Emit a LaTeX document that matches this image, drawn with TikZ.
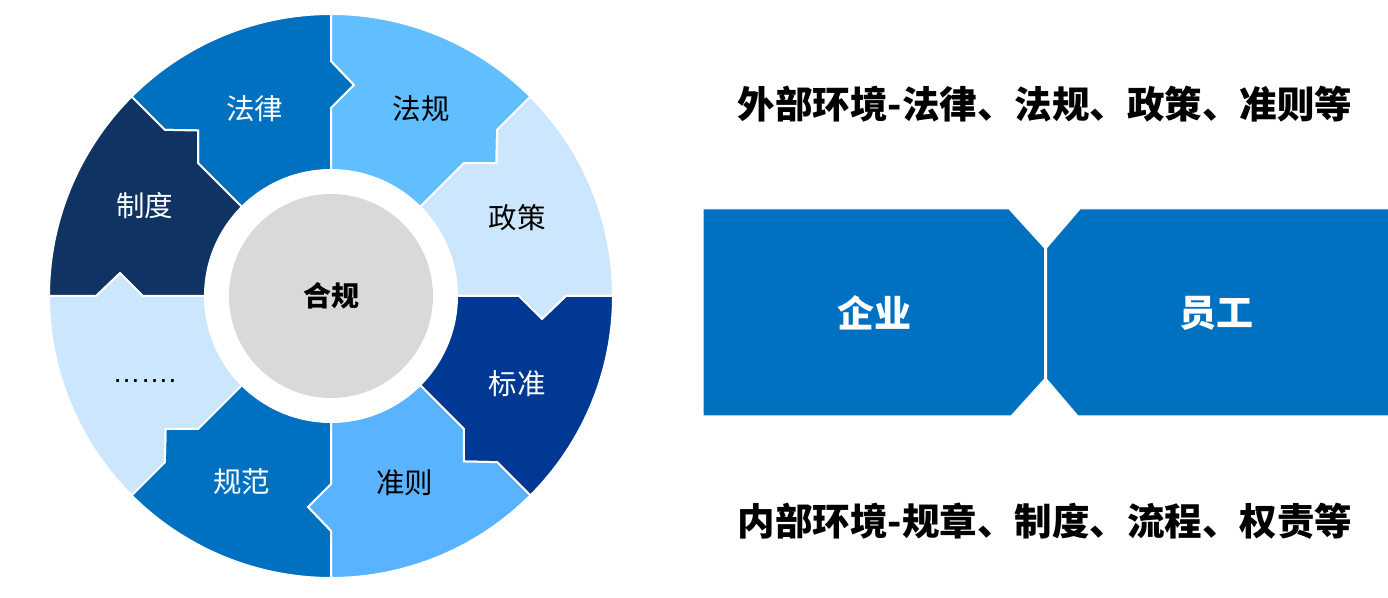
\documentclass[tikz,border=0pt]{standalone}
\usepackage{fontspec}
\setmainfont{Noto Sans CJK SC}
\newfontfamily\dotsfont{Liberation Sans}
\usetikzlibrary{calc}
\definecolor{cA}{HTML}{0070C0}
\definecolor{cB}{HTML}{61BEFF}
\definecolor{cC}{HTML}{CCE7FD}
\definecolor{cD}{HTML}{003893}
\definecolor{cE}{HTML}{59B3FF}
\definecolor{cF}{HTML}{0F3363}
\definecolor{cG}{HTML}{D9D9D9}
\tikzset{
  seg/.style={draw=white, line width=2pt, line join=miter},
  seglabel/.style={font=\fontsize{28.5}{32}\selectfont, inner sep=0pt},
  title/.style={font=\fontsize{37.5}{42}\selectfont\bfseries, inner sep=0pt},
  boxlabel/.style={font=\fontsize{37}{42}\selectfont\bfseries, text=white, inner sep=0pt},
  blockbox/.style={fill=cA, draw=white, line width=1pt},
}
\begin{document}
\begin{tikzpicture}[x=1pt,y=1pt]
\useasboundingbox (0,0) rectangle (1388,597);
\fill[white] (0,0) rectangle (1388,597);
% ring segments
\begin{scope}[shift={(331,301)}]
\foreach \a/\col in {90/cA, 45/cB, 0/cC, -45/cD, -90/cE, -135/cA, 180/cC, 135/cF}{
  \path[seg, fill=\col] (\a:282pt) -- (\a:235pt) -- ($(\a:211pt)+(\a-90:23pt)$) -- (\a:188pt) -- (\a:126pt)
    arc[start angle=\a, end angle=\a+45, radius=126pt]
    -- (\a+45:188pt) -- ($(\a+45:211pt)+(\a-45:23pt)$) -- (\a+45:235pt) -- (\a+45:282pt)
    arc[start angle=\a+45, end angle=\a, radius=282pt] -- cycle;
}
\fill[cG] (0,0) circle[radius=102pt];
\node[font=\fontsize{28}{32}\selectfont\bfseries, inner sep=0pt] (hegui) at (0,0) {合规};
\end{scope}
% segment labels
\node[seglabel, text=white] (falv)   at (254.5,488)   {法律};
\node[seglabel, text=black] (fagui)  at (421,488)     {法规};
\node[seglabel, text=black] (zhengce) at (517,379.5)  {政策};
\node[seglabel, text=white] (biaozhun) at (517,213)   {标准};
\node[seglabel, text=black] (zhunze) at (404.5,114)   {准则};
\node[seglabel, text=white] (guifan) at (241.5,115)   {规范};
\node[seglabel, text=white] (zhidu)  at (144.5,391)   {制度};
\node[seglabel, text=black, anchor=base, font=\dotsfont\fontsize{28}{32}\selectfont] (dots) at (144.5,214) {…….};
% titles
\node[title] (t1) at (1045,493) {外部环境-法律、法规、政策、准则等};
\node[title] (t2) at (1045,76) {内部环境-规章、制度、流程、权责等};
% boxes
\path[blockbox] (703,388) -- (1009,388) -- (1044.5,349) -- (1044.5,218) -- (1011,181) -- (703,181) -- cycle;
\path[blockbox] (1046.5,349) -- (1080,388) -- (1389,388) -- (1389,181) -- (1078,181) -- (1046.5,218) -- cycle;
\node[boxlabel] (qiye) at (874.5,284) {企业};
\node[boxlabel] (yuangong) at (1216,284) {员工};
\end{tikzpicture}
\end{document}
